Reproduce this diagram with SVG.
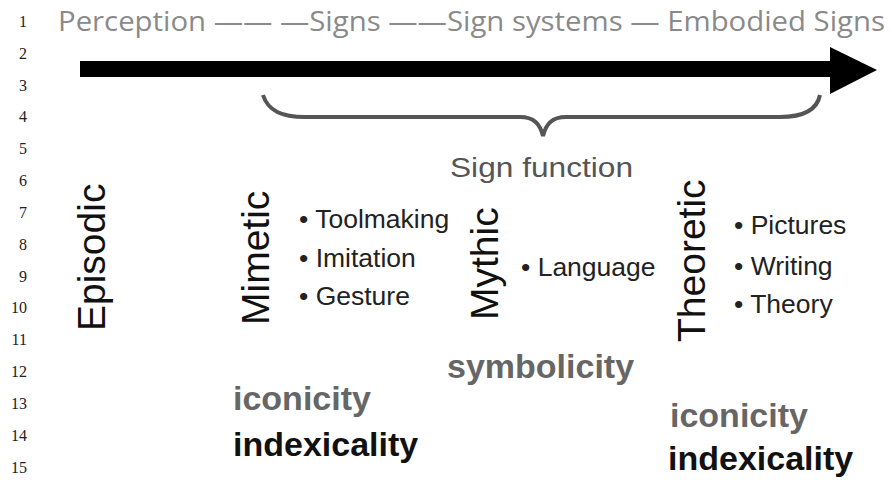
<svg xmlns="http://www.w3.org/2000/svg" width="891" height="480" viewBox="0 0 891 480">
<style>
.ln{font-family:"Liberation Serif","Times New Roman",serif;font-size:16px;fill:#222;text-anchor:end}
.title{font-family:"Open Sans","Noto Sans",sans-serif;font-size:28px;fill:#8a8a8a}
.phase{font-family:"Liberation Sans",Arial,sans-serif;font-size:39px;fill:#111}
.item{font-family:"Liberation Sans",Arial,sans-serif;font-size:26.5px;fill:#222}
.grey{font-family:"Liberation Sans",Arial,sans-serif;font-size:34px;font-weight:bold;fill:#666}
.black{font-family:"Liberation Sans",Arial,sans-serif;font-size:34px;font-weight:bold;fill:#111}
.sf{font-family:"Liberation Sans",Arial,sans-serif;font-size:27px;fill:#555}
</style>
<rect width="891" height="480" fill="#ffffff"/>
<g id="line-numbers">
<text class="ln" x="27" y="27">1</text>
<text class="ln" x="27" y="59">2</text>
<text class="ln" x="27" y="91">3</text>
<text class="ln" x="27" y="122">4</text>
<text class="ln" x="27" y="154">5</text>
<text class="ln" x="27" y="186">6</text>
<text class="ln" x="27" y="218">7</text>
<text class="ln" x="27" y="250">8</text>
<text class="ln" x="27" y="282">9</text>
<text class="ln" x="27" y="313">10</text>
<text class="ln" x="27" y="345">11</text>
<text class="ln" x="27" y="377">12</text>
<text class="ln" x="27" y="409">13</text>
<text class="ln" x="27" y="441">14</text>
<text class="ln" x="27" y="473">15</text>
</g>
<g id="title">
<text class="title" x="58" y="31" textLength="827" lengthAdjust="spacingAndGlyphs">Perception —— —Signs ——Sign systems — Embodied Signs</text>
</g>
<g id="connectors">
<rect x="80" y="61" width="752" height="16" fill="#000"/>
<polygon points="830,47 877,70 830,94" fill="#000"/>
<path d="M263,95 C268,111 282,117 305,117 L520,117 C534,117 540,124 543,136 C546,124 552,117 566,117 L780,117 C803,117 817,110 820,95" fill="none" stroke="#555" stroke-width="4"/>
</g>
<g id="sign-function">
<text class="sf" x="450" y="177" textLength="183" lengthAdjust="spacingAndGlyphs">Sign function</text>
</g>
<g id="episodic">
<text class="phase" transform="translate(105,331) rotate(-90)" x="0" y="0">Episodic</text>
</g>
<g id="mimetic">
<text class="phase" transform="translate(269,325) rotate(-90)" x="0" y="0">Mimetic</text>
<text class="item" x="299" y="228">• Toolmaking</text>
<text class="item" x="299" y="267">• Imitation</text>
<text class="item" x="299" y="305">• Gesture</text>
<text class="grey" x="233" y="410">iconicity</text>
<text class="black" x="233" y="456">indexicality</text>
</g>
<g id="mythic">
<text class="phase" transform="translate(498,320) rotate(-90)" x="0" y="0">Mythic</text>
<text class="item" x="521" y="276">• Language</text>
<text class="grey" x="447" y="378">symbolicity</text>
</g>
<g id="theoretic">
<text class="phase" transform="translate(705,342) rotate(-90)" x="0" y="0">Theoretic</text>
<text class="item" x="734" y="234">• Pictures</text>
<text class="item" x="734" y="275">• Writing</text>
<text class="item" x="734" y="313">• Theory</text>
<text class="grey" x="670" y="427">iconicity</text>
<text class="black" x="668" y="470">indexicality</text>
</g>
</svg>
